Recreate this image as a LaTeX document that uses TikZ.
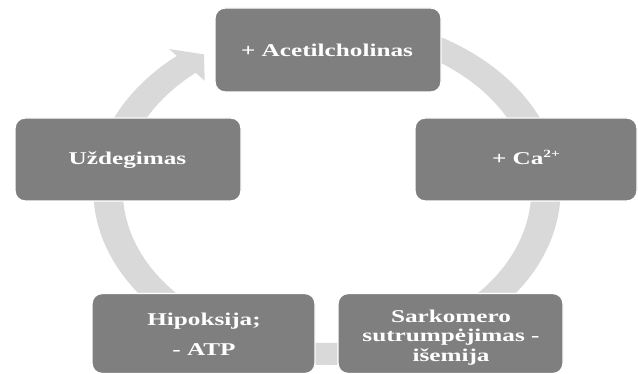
\documentclass[tikz,border=0pt]{standalone}
\usepackage{fontspec}
\newfontfamily\boxfont{Liberation Serif}[FakeStretch=1.4]
\definecolor{boxgray}{HTML}{7F7F7F}
\definecolor{ringgray}{HTML}{D9D9D9}
\tikzset{
  cyclebox/.style={rectangle, rounded corners=10pt, fill=boxgray, draw=white, line width=1.4pt, inner sep=0pt},
  boxtext/.style={text=white, inner sep=0pt, align=center, font=\boxfont\bfseries\fontsize{18}{19.5}\selectfont}
}
\begin{document}
\begin{tikzpicture}[x=1pt,y=1pt]
\useasboundingbox (0,0) rectangle (638,374);
% ring arrow
\begin{scope}[shift={(327,184)}, xscale=1.335]
\fill[ringgray] (80:175) arc[start angle=80, end angle=-230, radius=175]
  -- (130:184) -- (124.2:164) -- (130:142.5) -- (130:153)
  arc[start angle=-230, end angle=80, radius=153] -- cycle;
\end{scope}
% boxes
\node[cyclebox, minimum width=226pt, minimum height=84pt] (acet) at (328,324) {};
\node[cyclebox, minimum width=222pt, minimum height=83pt] (ca) at (526,214.5) {};
\node[cyclebox, minimum width=226pt, minimum height=83pt] (uzd) at (128,214.5) {};
\node[cyclebox, minimum width=223pt, minimum height=80pt] (hip) at (203.5,40.5) {};
\node[cyclebox, minimum width=225pt, minimum height=80pt] (sark) at (450.5,40.5) {};
% texts
\node[boxtext, anchor=base] (acett) at (327,317) {+ Acetilcholinas};
\node[boxtext, anchor=base] (cat) at (526,209) {+ Ca\raisebox{7pt}{\fontsize{11}{11}\selectfont 2+}};
\node[boxtext, anchor=base] (uzdt) at (127.5,209) {Uždegimas};
\node[boxtext, anchor=north] (hipt) at (204,61.2) {Hipoksija;\\[10.5pt]- ATP};
\node[boxtext, anchor=north] (sarkt) at (451,64.5) {Sarkomero\\sutrumpėjimas -\\išemija};
\end{tikzpicture}
\end{document}
